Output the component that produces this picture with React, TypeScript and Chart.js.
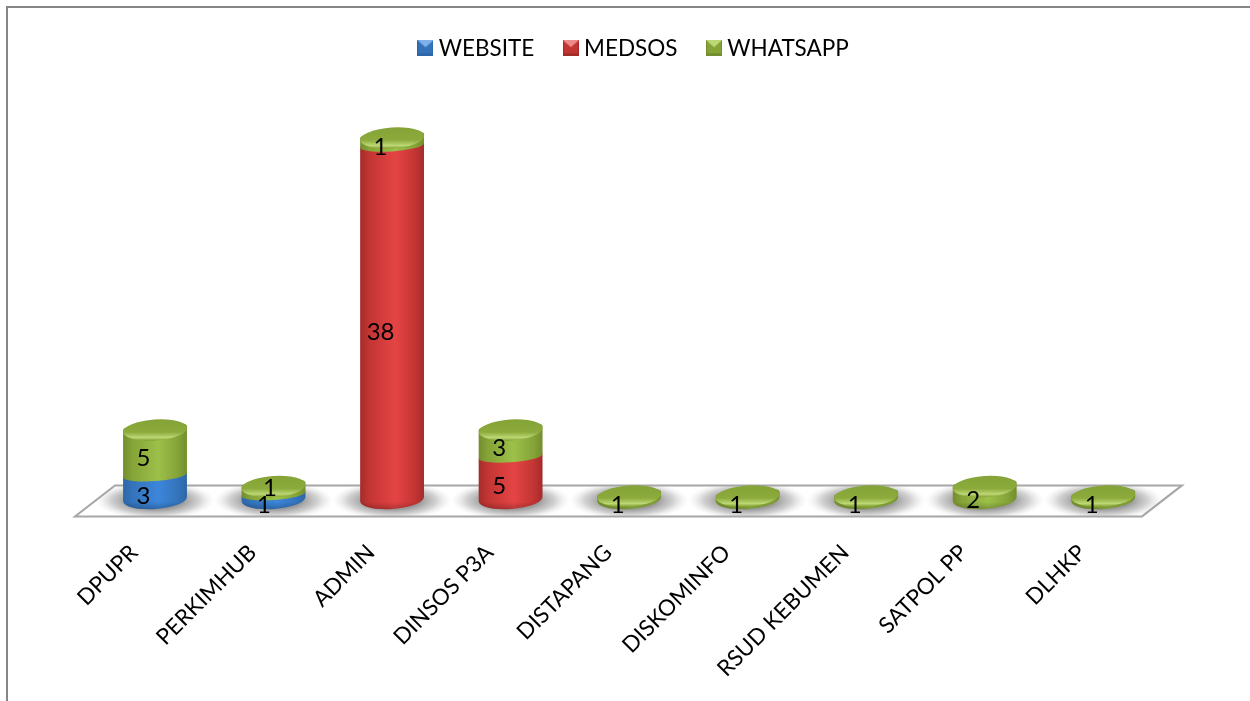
import React, { useEffect, useRef } from "react";
import { Chart, registerables } from "chart.js";

Chart.register(...registerables);

const categories = ["DPUPR", "PERKIMHUB", "ADMIN", "DINSOS P3A", "DISTAPANG", "DISKOMINFO", "RSUD KEBUMEN", "SATPOL PP", "DLHKP"];
const website = [3, 1, 0, 0, 0, 0, 0, 0, 0];
const medsos = [0, 0, 38, 5, 0, 0, 0, 0, 0];
const whatsapp = [5, 1, 1, 3, 1, 1, 1, 2, 1];
const seriesNames = ["WEBSITE", "MEDSOS", "WHATSAPP"];

const palette = [
  { edge: "#2c66a6", mid: "#3473bb", bright: "#3c86da", top: "#3f86d4", light: "#7fb2ea" },
  { edge: "#a32c2a", mid: "#c23533", bright: "#e54444", top: "#d23c3a", light: "#ee8a88" },
  { edge: "#728e2e", mid: "#85a337", bright: "#9cc049", top: "#8cab3c", light: "#bcd774" },
];

const FONT = "Lato";
const TILT = -0.07;
const TOP_RY = 10.5;
const SEAM_RY = 6;
const SEAM_LIFT = 2;
const BASE_LIFT = 6.4;

function makeIcon(c: (typeof palette)[number]) {
  const cv = document.createElement("canvas");
  cv.width = 16;
  cv.height = 16;
  const g = cv.getContext("2d")!;
  g.fillStyle = c.mid;
  g.fillRect(0, 0, 16, 16);
  g.fillStyle = c.edge;
  g.fillRect(0, 13, 16, 3);
  g.fillRect(0, 0, 1, 16);
  g.fillRect(15, 0, 1, 16);
  g.beginPath();
  g.moveTo(0, 0);
  g.lineTo(16, 0);
  g.lineTo(8, 7);
  g.closePath();
  g.fillStyle = c.light;
  g.fill();
  return cv;
}

// Label nudges away from the default spot, keyed "dataset:category"
const labelShift: Record<string, [number, number]> = {
  "2:1": [8, -7.5],
  "0:1": [2, 0],
  "1:2": [0, 1],
};

const cylinders = {
  id: "cylinders",
  beforeDraw(chart: any) {
    const { ctx } = chart;
    ctx.save();
    ctx.fillStyle = "#ffffff";
    ctx.fillRect(0, 0, chart.width, chart.height);
    ctx.strokeStyle = "#868686";
    ctx.lineWidth = 2;
    ctx.beginPath();
    ctx.moveTo(7, chart.height);
    ctx.lineTo(7, 7);
    ctx.lineTo(chart.width, 7);
    ctx.stroke();
    ctx.restore();
  },
  afterLayout(chart: any) {
    chart.legend.left += 7;
    chart.legend.right += 7;
  },
  beforeDatasetsDraw(chart: any) {
    const { ctx, scales } = chart;
    const xs = scales.x;
    const zero = scales.y.getPixelForValue(0);
    const poly: [number, number][] = [
      [xs.left - 20.75, zero + 11],
      [xs.right - 20.5, zero + 11],
      [xs.right + 19.5, zero - 20],
      [xs.left + 19.25, zero - 20],
    ];
    const trace = () => {
      ctx.beginPath();
      poly.forEach(([a, b], i) => (i ? ctx.lineTo(a, b) : ctx.moveTo(a, b)));
      ctx.closePath();
    };
    ctx.save();
    trace();
    ctx.fillStyle = "#ffffff";
    ctx.fill();
    ctx.save();
    trace();
    ctx.clip();
    categories.forEach((_, i) => {
      const cx = xs.getPixelForValue(i);
      ctx.save();
      ctx.translate(cx, zero - 5);
      ctx.scale(1, 0.32);
      const g = ctx.createRadialGradient(0, 0, 28, 0, 0, 60);
      g.addColorStop(0, "rgba(135,135,135,0.85)");
      g.addColorStop(0.5, "rgba(170,170,170,0.55)");
      g.addColorStop(1, "rgba(225,225,225,0)");
      ctx.fillStyle = g;
      ctx.beginPath();
      ctx.arc(0, 0, 60, 0, Math.PI * 2);
      ctx.fill();
      ctx.restore();
    });
    ctx.restore();
    trace();
    ctx.strokeStyle = "#a6a6a6";
    ctx.lineWidth = 2;
    ctx.stroke();
    ctx.restore();
  },
  beforeDatasetDraw() {
    return false;
  },
  afterDatasetsDraw(chart: any) {
    const { ctx, scales } = chart;
    const zero = scales.y.getPixelForValue(0);
    const metas = chart.data.datasets.map((_: any, d: number) => chart.getDatasetMeta(d));
    const topIndex = (i: number) => {
      let t = -1;
      chart.data.datasets.forEach((ds: any, d: number) => {
        if (ds.data[i] > 0) t = d;
      });
      return t;
    };
    metas.forEach((meta: any, d: number) => {
      const c = palette[d];
      meta.data.forEach((bar: any, i: number) => {
        const v = chart.data.datasets[d].data[i];
        if (!v) return;
        const r = bar.width / 2;
        const isFloor = Math.abs(bar.base - zero) < 0.01;
        const yBot = isFloor ? zero - BASE_LIFT : bar.base - SEAM_LIFT;
        const ry = isFloor ? TOP_RY - 0.5 : SEAM_RY;
        const grad = ctx.createLinearGradient(bar.x - r, 0, bar.x + r, 0);
        grad.addColorStop(0, c.edge);
        grad.addColorStop(0.14, c.mid);
        grad.addColorStop(0.55, c.bright);
        grad.addColorStop(0.86, c.mid);
        grad.addColorStop(1, c.edge);
        ctx.save();
        ctx.beginPath();
        ctx.ellipse(bar.x, yBot, r, ry, TILT, 0, Math.PI);
        ctx.ellipse(bar.x, bar.y - SEAM_LIFT, r, SEAM_RY, TILT, Math.PI, Math.PI * 2);
        ctx.closePath();
        ctx.fillStyle = grad;
        ctx.fill();
        if (isFloor) {
          const shade = ctx.createLinearGradient(0, yBot + ry - 7, 0, yBot + ry);
          shade.addColorStop(0, "rgba(0,0,0,0)");
          shade.addColorStop(1, "rgba(0,0,0,0.22)");
          ctx.fillStyle = shade;
          ctx.fill();
        }
        if (topIndex(i) === d) {
          const tg = ctx.createLinearGradient(0, bar.y - TOP_RY, 0, bar.y + TOP_RY);
          tg.addColorStop(0, c.mid);
          tg.addColorStop(0.6, c.top);
          tg.addColorStop(0.86, c.light);
          tg.addColorStop(1, c.mid);
          ctx.beginPath();
          ctx.ellipse(bar.x, bar.y, r, TOP_RY, TILT, 0, Math.PI * 2);
          ctx.fillStyle = tg;
          ctx.fill();
        }
        ctx.restore();
      });
    });
    ctx.save();
    ctx.fillStyle = "#000000";
    ctx.font = `24px ${FONT}`;
    ctx.textAlign = "center";
    ctx.textBaseline = "middle";
    metas.forEach((meta: any, d: number) => {
      meta.data.forEach((bar: any, i: number) => {
        const v = chart.data.datasets[d].data[i];
        if (!v) return;
        const [sx, sy] = labelShift[`${d}:${i}`] || [0, 0];
        ctx.fillText(String(v), bar.x - 11.5 + sx, (bar.y + bar.base) / 2 + 4.5 + sy);
      });
    });
    ctx.restore();
  },
};

export default function App() {
  const ref = useRef<HTMLCanvasElement>(null);
  useEffect(() => {
    document.body.style.margin = "0";
    const icons = palette.map(makeIcon);
    const series = [website, medsos, whatsapp];
    const chart = new Chart(ref.current!, {
      type: "bar",
      data: {
        labels: categories,
        datasets: series.map((data, i) => ({
          label: seriesNames[i],
          data,
          backgroundColor: palette[i].bright,
          barPercentage: 1,
          categoryPercentage: 0.54,
        })),
      },
      plugins: [cylinders],
      options: {
        responsive: false,
        animation: false,
        layout: { autoPadding: false, padding: { left: 95.75, right: 87.5, top: 2.5, bottom: 0 } },
        plugins: {
          tooltip: { enabled: false },
          legend: {
            position: "top",
            labels: {
              usePointStyle: true,
              boxWidth: 4,
              padding: 34.5,
              color: "#000000",
              font: { family: FONT, size: 22.5 },
              generateLabels: (c: any) =>
                (Chart.defaults.plugins.legend.labels.generateLabels as any)(c).map((it: any, i: number) => ({
                  ...it,
                  pointStyle: icons[i],
                })),
            },
          },
        },
        scales: {
          x: {
            stacked: true,
            grid: { display: false },
            border: { display: false },
            afterFit: (s: any) => {
              s.height = 195.6;
            },
            ticks: {
              minRotation: 45,
              maxRotation: 45,
              autoSkip: false,
              padding: 26,
              labelOffset: -21,
              color: "#000000",
              font: { family: FONT, size: 22.4 },
            },
          },
          y: { stacked: true, display: false, min: 0, max: 46.27 },
        },
      },
    } as any);
    return () => chart.destroy();
  }, []);
  return <canvas ref={ref} width={1250} height={701} style={{ display: "block" }} />;
}
